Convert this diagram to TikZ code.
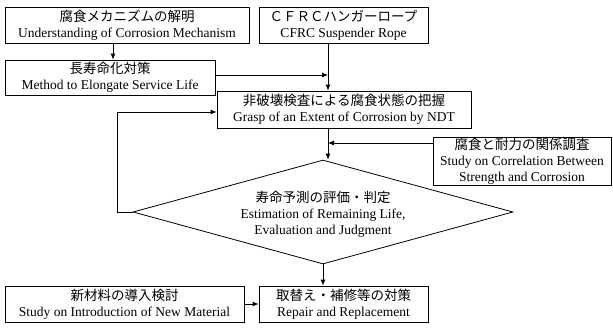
\documentclass[tikz,border=0pt]{standalone}
\usepackage{fontspec}
\setmainfont{Liberation Serif}
\newfontfamily\jp{Noto Sans CJK JP}
\usetikzlibrary{arrows.meta,shapes.geometric}
\begin{document}
\begin{tikzpicture}[x=1pt,y=-1pt,
  every node/.style={inner sep=0pt},
  box/.style={draw, line width=0.8pt, align=center, font=\fontsize{13.5}{16}\selectfont},
  txt/.style={align=center, font=\fontsize{13.5}{16}\selectfont},
  arr/.style={line width=0.8pt, -{Latex[length=6pt,width=5pt]}},
  ln/.style={line width=0.8pt}]
\useasboundingbox (0,0) rectangle (613,327);
\node[box, minimum width=244pt, minimum height=36pt] (b1) at (127,25)
  {{\jp 腐食メカニズムの解明}\\Understanding of Corrosion Mechanism};
\node[box, minimum width=169pt, minimum height=36pt] (b2) at (343.5,25)
  {{\jp ＣＦＲＣハンガーロープ}\\CFRC Suspender Rope};
\node[box, minimum width=210pt, minimum height=35pt] (b3) at (110,77.5)
  {{\jp 長寿命化対策}\\Method to Elongate Service Life};
\node[box, minimum width=254pt, minimum height=37pt] (b4) at (344,109.5)
  {{\jp 非破壊検査による腐食状態の把握}\\Grasp of an Extent of Corrosion by NDT};
\node[box, minimum width=178pt, minimum height=48pt] (b5) at (522,161.5)
  {{\jp 腐食と耐力の関係調査}\\Study on Correlation Between\\Strength and Corrosion};
\node[draw, line width=0.8pt, shape=diamond, minimum width=380pt, minimum height=104pt] (d) at (323,212) {};
\node[txt] (dt) at (323,214)
  {{\jp 寿命予測の評価・判定}\\Estimation of Remaining Life,\\Evaluation and Judgment};
\node[box, minimum width=169pt, minimum height=36pt] (b6) at (343.5,304)
  {{\jp 取替え・補修等の対策}\\Repair and Replacement};
\node[box, minimum width=239pt, minimum height=36pt] (b7) at (124.5,304)
  {{\jp 新材料の導入検討}\\Study on Introduction of New Material};
% helper coordinates
\coordinate (c1) at (113,0);
\coordinate (mx) at (328,0);
\coordinate (y3) at (0,75);
\coordinate (y5) at (0,143);
\coordinate (fx) at (117,112);
% connectors
\draw[arr] (b1.south -| c1) -- (b3.north -| c1);
\draw[arr] (b2.south -| mx) -- (b4.north -| mx);
\draw[arr] (b3.east |- y3) -- (mx |- y3);
\draw[arr] (b4.south -| mx) -- (mx |- d.north);
\draw[arr] (b5.west |- y5) -- (mx |- y5);
\draw[arr] (d.west) -- (fx |- d.west) -- (fx) -- (b4.west |- fx);
\draw[arr] (d.south) -- (b6.north -| d.south);
\draw[arr] (b7.east) -- (b6.west |- b7.east);
\end{tikzpicture}
\end{document}
